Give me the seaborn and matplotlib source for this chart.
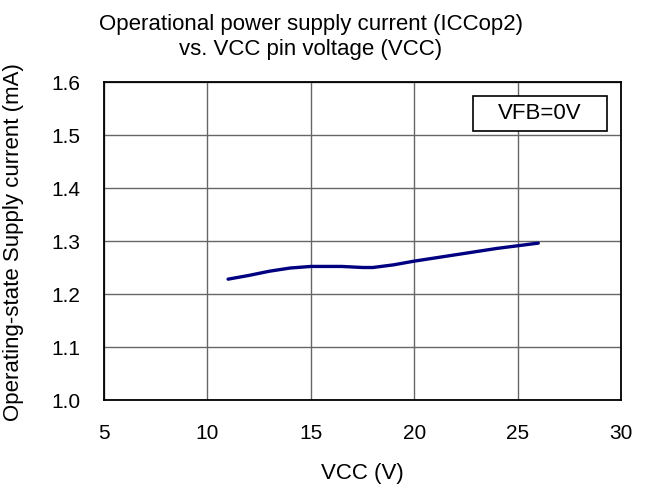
import matplotlib
matplotlib.use("Agg")
import matplotlib.pyplot as plt
from matplotlib.patches import Rectangle
import seaborn as sns
import pandas as pd

vcc = [11, 12, 13, 14, 15, 16, 16.5, 17, 17.5, 18, 19, 20, 21, 22, 23, 24, 25, 26]
icc = [1.228, 1.235, 1.243, 1.249, 1.252, 1.252, 1.252, 1.251, 1.250, 1.250, 1.255, 1.262, 1.268, 1.274, 1.280, 1.286, 1.291, 1.296]
xticks = [5, 10, 15, 20, 25, 30]
yticks = [1.0, 1.1, 1.2, 1.3, 1.4, 1.5, 1.6]

sns.set_theme(style="white")
plt.rcParams['font.family'] = ['Liberation Sans', 'DejaVu Sans']

W, H = 645, 490
df = pd.DataFrame({"VCC": vcc, "ICC": icc})
fig = plt.figure(figsize=(W / 100, H / 100), dpi=100)
ax = fig.add_axes([104 / W, 1 - 400 / H, (621 - 104) / W, (400 - 82) / H])
sns.lineplot(data=df, x="VCC", y="ICC", ax=ax, color="#000080", linewidth=2.4)
ax.set_xlim(5, 30)
ax.set_ylim(1.0, 1.6)
ax.set_xticks(xticks)
ax.set_yticks(yticks)
ax.set_yticklabels([f"{v:.1f}" for v in yticks])
ax.grid(True, color="#666666", linewidth=1.0)
for s in ax.spines.values():
    s.set_color("black")
    s.set_linewidth(1.3)
ax.tick_params(axis="both", length=0, labelsize=15, colors="black", pad=17)
ax.set_xlabel("")
ax.set_ylabel("")
fig.text(362 / W, 1 - 473 / H, "VCC (V)", ha="center", va="center", fontsize=16, color="black")
fig.text(14 / W, 1 - 242 / H, "Operating-state Supply current (mA)", ha="center", va="center",
         rotation=90, fontsize=16, color="black")
fig.text(311 / W, 1 - 37 / H, "Operational power supply current (ICCop2)\nvs. VCC pin voltage (VCC)",
         ha="center", va="center", fontsize=16, color="black", linespacing=1.3)
ax.add_patch(Rectangle(((473 - 104) / 517, (400 - 131) / 318), 134 / 517, 35 / 318,
                       transform=ax.transAxes, facecolor="white", edgecolor="black", linewidth=1.2, zorder=5))
ax.text((540 - 104) / 517, (400 - 113.5) / 318, "VFB=0V", transform=ax.transAxes, ha="center", va="center",
        fontsize=16, color="black", zorder=6)
fig.savefig("out.png", dpi=100)
